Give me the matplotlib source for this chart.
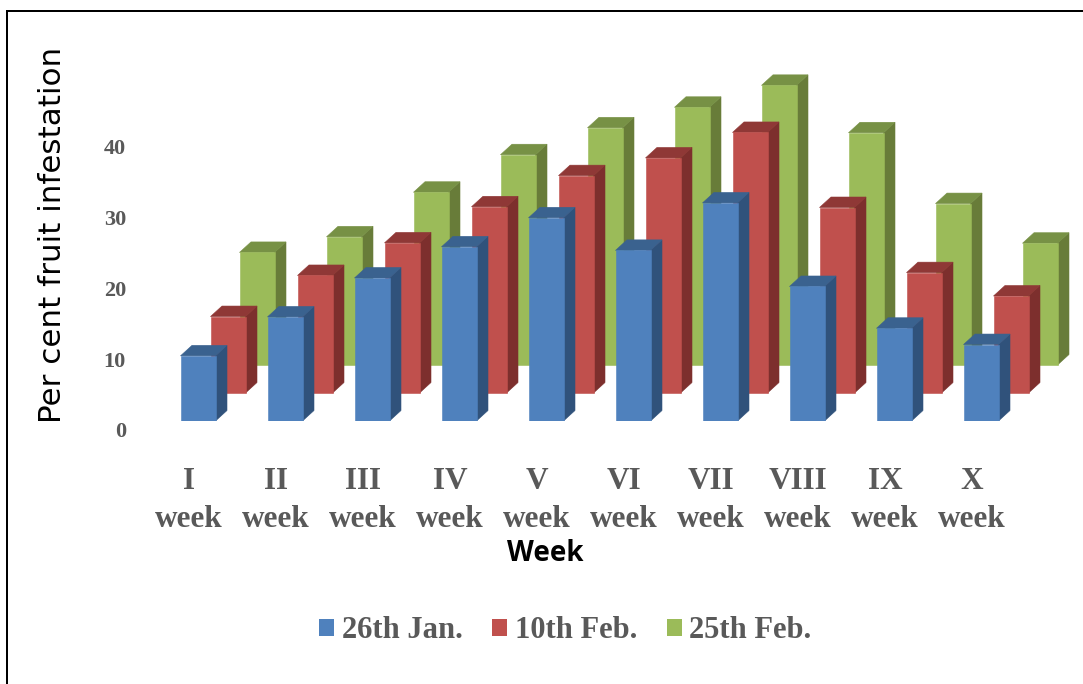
import matplotlib
matplotlib.use("Agg")
import matplotlib.pyplot as plt
from matplotlib.patches import Polygon, Patch, Rectangle
from matplotlib.transforms import ScaledTranslation

weeks = ["I", "II", "III", "IV", "V", "VI", "VII", "VIII", "IX", "X"]
jan26 = [9.2, 14.7, 20.2, 24.6, 28.7, 24.1, 30.8, 19.0, 13.1, 10.8]
feb10 = [10.8, 16.6, 21.2, 26.3, 30.7, 33.2, 36.8, 26.2, 17.0, 13.7]
feb25 = [15.9, 18.1, 24.4, 29.7, 33.5, 36.4, 39.5, 32.8, 22.8, 17.2]
series_names = ["26th Jan.", "10th Feb.", "25th Feb."]
y_ticks = [0, 10, 20, 30, 40]

W, H = 1083, 684
PX_X = 87.0   # pixels per category
PX_Y = 7.08   # pixels per value unit
AX_L, AX_R, AX_T, AX_B = 135, 1075, 40, 421
X0 = 198.0    # pixel of first front bar centre

fig = plt.figure(figsize=(W / 100, H / 100), dpi=100, facecolor="white")
ax = fig.add_axes([AX_L / W, 1 - AX_B / H, (AX_R - AX_L) / W, (AX_B - AX_T) / H])
ax.set_xlim((AX_L - X0) / PX_X, (AX_R - X0) / PX_X)
ax.set_ylim(0, (AX_B - AX_T) / PX_Y)
ax.patch.set_alpha(0)
for s in ax.spines.values():
    s.set_visible(False)

bar_w = 35 / PX_X
depth_x = 11.5 / PX_X
depth_y = 10.5 / PX_Y
# (values, front, side, top, x shift, floor shift), drawn back to front
styles = [
    (feb25, "#9BBB59", "#687C39", "#779145", 59 / PX_X, 56 / PX_Y),
    (feb10, "#C0504D", "#7D2F2D", "#8F3836", 30 / PX_X, 28 / PX_Y),
    (jan26, "#4F81BD", "#30527B", "#3A628F", 0.0, 0.0),
]
for vals, front, side, top, sx, sy in styles:
    for i, v in enumerate(vals):
        xl = i + sx - bar_w / 2
        xr = i + sx + bar_w / 2
        yt = sy + v
        ax.add_patch(Polygon([(xr, sy), (xr + depth_x, sy + depth_y),
                              (xr + depth_x, yt + depth_y), (xr, yt)],
                             closed=True, fc=side, ec=side, lw=0.4, zorder=2))
        ax.add_patch(Polygon([(xl, yt), (xl + depth_x, yt + depth_y),
                              (xr + depth_x, yt + depth_y), (xr, yt)],
                             closed=True, fc=top, ec=top, lw=0.4, zorder=2))
    ax.bar([i + sx for i in range(len(vals))], vals, width=bar_w, bottom=sy,
           color=front, edgecolor=front, linewidth=0.4, zorder=2)

serif = "Liberation Serif"
grey = "#595959"
ax.set_xticks(range(len(weeks)))
ax.set_xticklabels([f"{w}\nweek" for w in weeks], fontfamily=serif, fontweight="bold",
                   fontsize=22.5, color=grey, linespacing=1.42)
ax.set_yticks(y_ticks)
ax.set_yticklabels([str(t) for t in y_ticks], fontfamily=serif, fontweight="bold",
                   fontsize=16, color=grey)
ax.tick_params(axis="both", length=0)
ax.tick_params(axis="x", pad=33)
ax.tick_params(axis="y", pad=6.5)
x_off = ScaledTranslation(-9 / 100, 0, fig.dpi_scale_trans)
y_off = ScaledTranslation(0, -9 / 100, fig.dpi_scale_trans)
for lab in ax.get_xticklabels():
    lab.set_transform(lab.get_transform() + x_off)
for lab in ax.get_yticklabels():
    lab.set_transform(lab.get_transform() + y_off)

ax.set_ylabel("Per cent fruit infestation", fontsize=22.3, color="black",
              fontfamily="DejaVu Sans")
ax.yaxis.set_label_coords((67 - AX_L) / (AX_R - AX_L), (AX_B - 235) / (AX_B - AX_T))
ax.set_xlabel("Week", fontsize=20, fontweight="bold", color="black", fontfamily="Open Sans")
ax.xaxis.set_label_coords((545 - AX_L) / (AX_R - AX_L), (AX_B - 539) / (AX_B - AX_T))

handles = [Patch(fc=st[1], ec="none") for st in reversed(styles)]
fig.legend(handles, series_names, loc="center left",
           bbox_to_anchor=(319 / W, 1 - 631 / H), ncol=3, frameon=False,
           prop={"family": serif, "weight": "bold", "size": 22}, labelcolor=grey,
           handlelength=0.5, handleheight=0.5, handletextpad=0.24, columnspacing=0.97,
           borderpad=0, borderaxespad=0)

# outer frame: left and top rules
fig.add_artist(Rectangle((6 / W, 0), 2 / W, 1 - 10 / H, transform=fig.transFigure,
                         fc="black", ec="none"))
fig.add_artist(Rectangle((6 / W, 1 - 12 / H), (W - 6) / W, 2 / H, transform=fig.transFigure,
                         fc="black", ec="none"))

fig.savefig("out.png", dpi=100)
